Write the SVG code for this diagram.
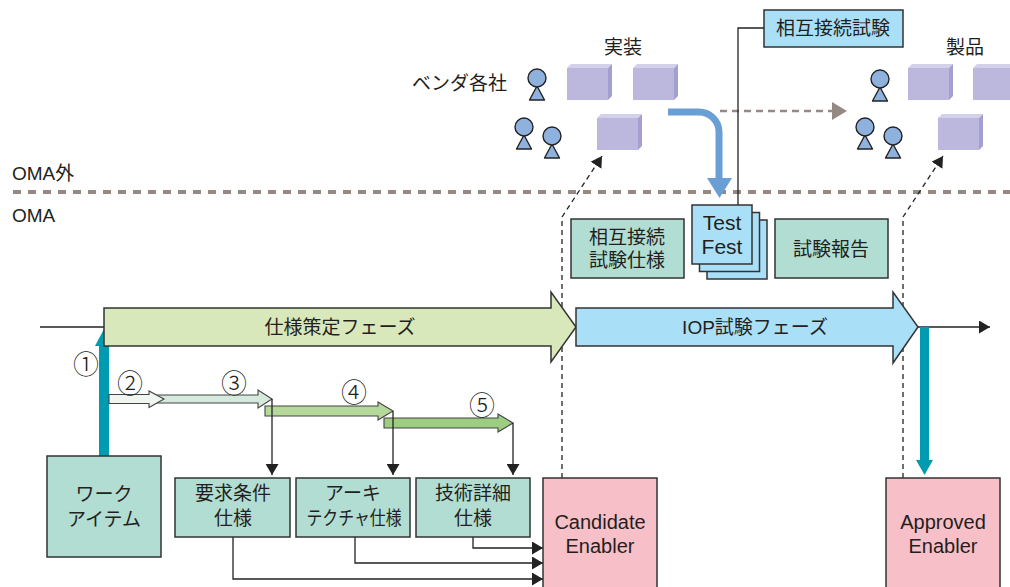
<svg xmlns="http://www.w3.org/2000/svg" width="1010" height="587" viewBox="0 0 1010 587">
  <style>
    text { font-family: "Liberation Sans", "Noto Sans CJK JP", sans-serif; font-size: 19px; fill: #231f20; }
    .c { text-anchor: middle; }
    .lat { font-size: 20px; }
    .num { font-size: 26px; font-weight: 300; }
    .box { fill: #b2ddd3; stroke: #333; stroke-width: 1.5; }
    .pink { fill: #f7bfc7; stroke: #333; stroke-width: 1.5; }
    .sky { fill: #aadff8; stroke: #333; stroke-width: 1.5; }
    .thin { fill: none; stroke: #222; stroke-width: 1.3; }
    .dash { fill: none; stroke: #222; stroke-width: 1.3; stroke-dasharray: 5 4; }
    .step { stroke: #444; stroke-width: 1.1; }
    .teal { fill: #009bb0; }
  </style>
  <defs>
    <marker id="ah" markerUnits="userSpaceOnUse" markerWidth="12" markerHeight="13" refX="11" refY="6.5" orient="auto">
      <path d="M0,0 L11,6.5 L0,13 z" fill="#222"/>
    </marker>
    <g id="cube">
      <polygon points="0,4 4,0 45,0 41,4" fill="#d3d0ea"/>
      <rect x="0" y="4" width="41" height="32" fill="#bcb8dd"/>
      <polygon points="41,4 45,0 45,32 41,36" fill="#a49fd1"/>
    </g>
    <g id="person">
      <polygon points="0,8 -7.5,22 7.5,22" fill="#8fb1dd" stroke="#222" stroke-width="1.4" stroke-linejoin="round"/>
      <circle cx="0" cy="0" r="9" fill="#8fb1dd" stroke="#222" stroke-width="1.4"/>
    </g>
  </defs>

  <rect width="1010" height="587" fill="#fff"/>

  <!-- boundary between OMA and the outside world -->
  <g id="boundary">
    <line x1="13" y1="192" x2="1010" y2="192" stroke="#968983" stroke-width="4" stroke-dasharray="8 7"/>
    <text x="12" y="180">OMA外</text>
    <text x="12" y="222">OMA</text>
  </g>

  <!-- vendors and their implementations -->
  <g id="vendors">
    <text x="412" y="90">ベンダ各社</text>
    <text class="c" x="623" y="54">実装</text>
    <use href="#cube" x="567" y="64"/>
    <use href="#cube" x="633" y="64"/>
    <use href="#cube" x="597" y="114"/>
    <use href="#person" x="537" y="78"/>
    <use href="#person" x="524" y="127"/>
    <use href="#person" x="552" y="136"/>
  </g>

  <!-- vendors and their products -->
  <g id="products">
    <text class="c" x="965" y="54">製品</text>
    <use href="#cube" x="908" y="64"/>
    <use href="#cube" x="973" y="64"/>
    <use href="#cube" x="938" y="114"/>
    <use href="#person" x="880" y="79"/>
    <use href="#person" x="865" y="127"/>
    <use href="#person" x="893" y="136"/>
  </g>

  <g id="iop-test-label">
    <rect x="764" y="10" width="139" height="37" class="sky"/>
    <text class="c" x="833" y="35">相互接続試験</text>
  </g>

  <g id="connectors">
    <!-- implementations go to the Test Fest -->
    <path d="M668,112 H699 A20,20 0 0 1 719,132 V180" fill="none" stroke="#6a9fd6" stroke-width="7"/>
    <polygon points="707,178 732,178 719.5,198" fill="#6a9fd6"/>
    <!-- implementations become products -->
    <line x1="720" y1="111" x2="832" y2="111" stroke="#968983" stroke-width="2.5" stroke-dasharray="7 5"/>
    <polygon points="832,102 847,111 832,120" fill="#968983"/>
    <!-- label leader -->
    <path class="thin" d="M764,28 H738 V205"/>
    <!-- enablers reach outside OMA -->
    <path class="dash" d="M562,478 V217 L602,156" marker-end="url(#ah)"/>
    <path class="dash" d="M903,478 V217 L943,156" marker-end="url(#ah)"/>
    <!-- timeline -->
    <line class="thin" x1="40" y1="327" x2="104" y2="327"/>
    <line class="thin" x1="918" y1="327" x2="990" y2="327" marker-end="url(#ah)"/>
    <!-- work item starts the specification phase -->
    <rect class="teal" x="99" y="345" width="10" height="112"/>
    <polygon class="teal" points="95,346 113,346 104,329"/>
    <!-- IOP phase yields the approved enabler -->
    <rect class="teal" x="920" y="327" width="9" height="135"/>
    <polygon class="teal" points="916,460 933,460 924.5,475"/>
    <!-- specification steps -->
    <polygon class="step" fill="#d5e9dc" points="150,395 258,395 258,390 272,399 258,408 258,403 150,403"/>
    <polygon class="step" fill="#eef6ef" points="109,394.5 149,394.5 149,391 164,399 149,407.5 149,403.5 109,403.5"/>
    <polygon class="step" fill="#b5d99b" points="265,406 378,406 378,402 393,411 378,420 378,416 265,416"/>
    <polygon class="step" fill="#9dcd80" points="384,418 498,418 498,414 513,423 498,432 498,428 384,428"/>
    <line class="thin" x1="272" y1="399" x2="272" y2="475" marker-end="url(#ah)"/>
    <line class="thin" x1="393" y1="411" x2="393" y2="475" marker-end="url(#ah)"/>
    <line class="thin" x1="513" y1="423" x2="513" y2="475" marker-end="url(#ah)"/>
    <!-- specifications feed the candidate enabler -->
    <path class="thin" d="M473,537 V548 H543" marker-end="url(#ah)"/>
    <path class="thin" d="M355,537 V563 H543" marker-end="url(#ah)"/>
    <path class="thin" d="M233,537 V579 H543" marker-end="url(#ah)"/>
  </g>

  <g id="step-numbers">
    <text class="c num" x="86" y="374">①</text>
    <text class="c num" x="130" y="393">②</text>
    <text class="c num" x="234" y="393">③</text>
    <text class="c num" x="354" y="402">④</text>
    <text class="c num" x="482" y="415">⑤</text>
  </g>

  <g id="spec-phase">
    <polygon points="104,308 551,308 551,292 576,327 551,362 551,346 104,346" fill="#d9e8ba" stroke="#333" stroke-width="1.5"/>
    <text class="c" x="340" y="334">仕様策定フェーズ</text>
  </g>

  <g id="iop-phase">
    <polygon points="576,308 893,308 893,292 918,327 893,363 893,346 576,346" fill="#aadff8" stroke="#333" stroke-width="1.5"/>
    <text class="c" x="755" y="334">IOP試験フェーズ</text>
  </g>

  <g id="iop-spec">
    <rect class="box" x="571" y="219" width="113" height="59"/>
    <text class="c" x="627" y="244">相互接続</text>
    <text class="c" x="627" y="267">試験仕様</text>
  </g>

  <g id="test-fest">
    <rect class="sky" x="707" y="220" width="60" height="59"/>
    <rect class="sky" x="699.5" y="212.5" width="60" height="59"/>
    <rect class="sky" x="692" y="205" width="60" height="59"/>
    <text class="c" x="722" y="230" style="font-size:21px">Test</text>
    <text class="c" x="722" y="254" style="font-size:21px">Fest</text>
  </g>

  <g id="test-report">
    <rect class="box" x="775" y="219" width="113" height="59"/>
    <text class="c" x="831" y="256">試験報告</text>
  </g>

  <g id="work-item">
    <rect class="box" x="47" y="456" width="114" height="101"/>
    <text class="c" x="104" y="501">ワーク</text>
    <text class="c" x="104" y="526">アイテム</text>
  </g>

  <g id="requirements">
    <rect class="box" x="175" y="478" width="115" height="59"/>
    <text class="c" x="233" y="500">要求条件</text>
    <text class="c" x="233" y="525">仕様</text>
  </g>

  <g id="architecture">
    <rect class="box" x="296" y="478" width="114" height="59"/>
    <text class="c" x="353" y="500">アーキ</text>
    <text class="c" x="354" y="525" textLength="95" lengthAdjust="spacingAndGlyphs">テクチャ仕様</text>
  </g>

  <g id="technical">
    <rect class="box" x="416" y="478" width="114" height="59"/>
    <text class="c" x="473" y="500">技術詳細</text>
    <text class="c" x="473" y="525">仕様</text>
  </g>

  <g id="candidate-enabler">
    <rect class="pink" x="543" y="478" width="114" height="115"/>
    <text class="c lat" x="600" y="529">Candidate</text>
    <text class="c lat" x="600" y="553">Enabler</text>
  </g>

  <g id="approved-enabler">
    <rect class="pink" x="886" y="478" width="114" height="115"/>
    <text class="c lat" x="943" y="529">Approved</text>
    <text class="c lat" x="943" y="553">Enabler</text>
  </g>
</svg>
